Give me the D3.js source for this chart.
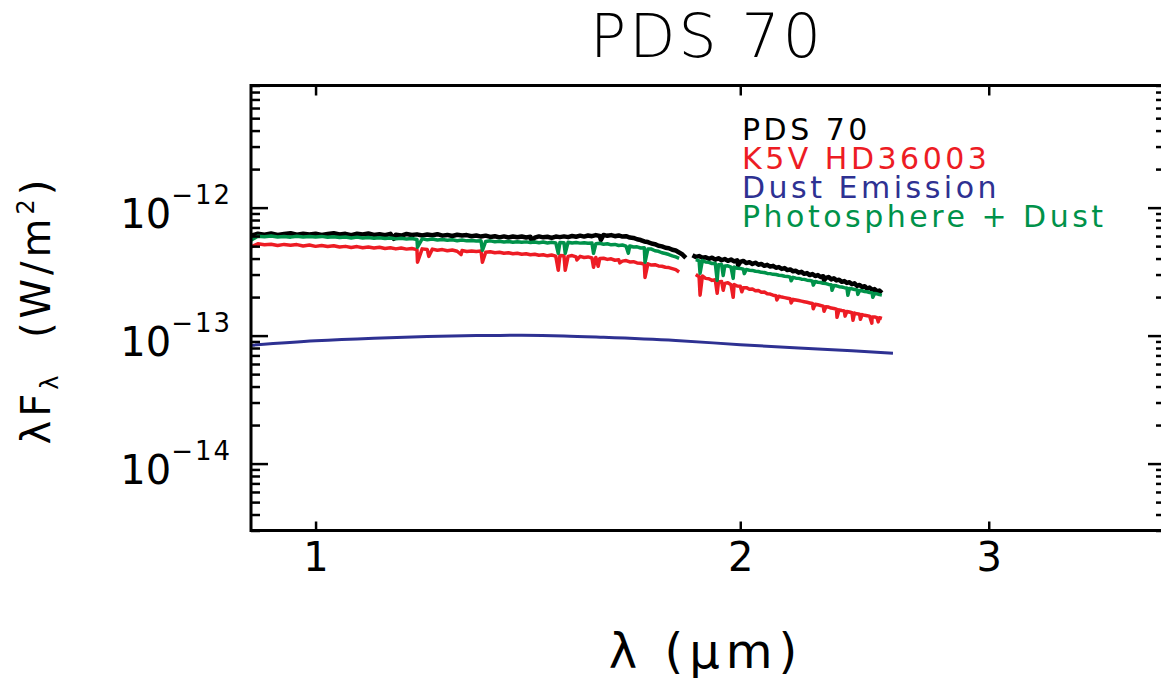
<!DOCTYPE html>
<html>
<head>
<meta charset="utf-8">
<script src="https://cdn.jsdelivr.net/npm/d3@7"></script>
<style>
  body { margin: 0; background: #fff; }
  text { font-family: "DejaVu Sans", "Liberation Sans", sans-serif; fill: #000; }
</style>
</head>
<body>
<svg id="chart" width="1161" height="687"></svg>
<script>
// spectra are sampled every 0.01 um from 0.90 to 2.52 um
const wavelength = d3.range(90, 253).map(i => i / 100);
const fluxUnit = 1e-13; // W/m^2, all flux values below are in these units

// PDS 70 observed spectrum
const pds70Flux = [
  6.05, 6.25, 6.15, 6.28, 6.12, 6.22, 6.30, 6.14, 6.24, 6.18,
  6.26, 6.12, 6.22, 6.30, 6.16, 6.24, 6.10, 6.25, 6.18, 6.28,
  6.12, 6.20, 6.08, 6.24, 6.15, 6.05, 6.22, 6.12, 6.18, 6.06,
  6.16, 6.08, 6.20, 6.04, 6.12, 6.00, 6.14, 6.06, 6.10, 5.98,
  6.06, 5.94, 6.04, 5.90, 5.98, 5.86, 5.96, 5.84, 5.94, 5.86,
  5.95, 5.84, 5.92, 5.82, 5.96, 5.86, 5.92, 5.80, 5.94, 5.88,
  5.96, 5.88, 6.00, 5.92, 6.04, 5.94, 6.06, 5.98, 6.10, 6.00,
  6.12, 6.02, 6.10, 5.98, 6.06, 5.94, 5.98, 5.84, 5.80, 5.66,
  5.58, 5.44, 5.38, 5.24, 5.18, 5.04, 4.98, 4.86, 4.82, 4.68,
  4.62, 4.46, 4.30, 4.05,
  null,
  4.25, 4.12, 4.18, 4.06, 4.10,
  3.98, 4.06, 3.92, 4.02, 3.88, 3.97, 3.84, 3.93, 3.80, 3.88,
  3.76, 3.83, 3.69, 3.75, 3.63, 3.71, 3.58, 3.63, 3.51, 3.57,
  3.46, 3.51, 3.39, 3.43, 3.32, 3.37, 3.25, 3.29, 3.18, 3.21,
  3.10, 3.15, 3.04, 3.08, 2.97, 3.03, 2.92, 2.97, 2.87, 2.91,
  2.82, 2.87, 2.75, 2.80, 2.70, 2.73, 2.63, 2.67, 2.58, 2.61,
  2.52, 2.56, 2.45, 2.49, 2.40, 2.43, 2.33, 2.37, 2.28, 2.31,
  2.22, 2.25, 2.16
];
const pds70Lines = [[1.136, 5.70], [1.423, 5.50], [1.593, 5.60], [1.993, 3.55], [2.293, 2.70]];

// K5V template HD36003
const k5vFlux = [
  4.92, 5.22, 5.12, 5.18, 5.06, 5.16, 5.08, 5.14, 5.02, 5.10,
  4.98, 5.06, 4.96, 5.04, 4.92, 4.98, 4.88, 4.96, 4.86, 4.92,
  4.84, 4.90, 4.80, 4.86, 4.76, 4.84, 4.74, 4.80, 4.70, 4.76,
  4.70, 4.74, 4.64, 4.70, 4.60, 4.66, 4.56, 4.62, 4.54, 4.58,
  4.54, 4.58, 4.48, 4.52, 4.44, 4.48, 4.40, 4.44, 4.36, 4.40,
  4.32, 4.36, 4.28, 4.32, 4.24, 4.28, 4.20, 4.26, 4.18, 4.22,
  4.20, 4.16, 4.22, 4.12, 4.16, 4.08, 4.12, 4.04, 4.08, 4.00,
  4.02, 3.94, 3.98, 3.88, 3.92, 3.82, 3.86, 3.76, 3.78, 3.70,
  3.68, 3.62, 3.64, 3.56, 3.58, 3.50, 3.48, 3.42, 3.40, 3.34,
  3.28, 3.14,
  null, null, null, null,
  3.00, 2.88, 2.92, 2.80,
  2.78, 2.70, 2.73, 2.62, 2.65, 2.56, 2.59, 2.50, 2.51, 2.44,
  2.43, 2.37, 2.37, 2.30, 2.31, 2.24, 2.25, 2.18, 2.19, 2.12,
  2.11, 2.07, 2.05, 2.03, 2.00, 1.98, 1.96, 1.94, 1.92, 1.90,
  1.88, 1.86, 1.84, 1.82, 1.80, 1.78, 1.76, 1.74, 1.72, 1.70,
  1.68, 1.67, 1.64, 1.63, 1.61, 1.59, 1.57, 1.56, 1.54, 1.53,
  1.51, 1.50, 1.48, 1.47, 1.46, 1.44, 1.43, 1.42, 1.40, 1.40,
  1.38, 1.38, 1.36
];
const k5vLines = [
  [1.181, 3.74], [1.203, 4.16], [1.268, 4.30], [1.313, 3.74], [1.486, 3.24],
  [1.503, 3.24], [1.532, 3.90], [1.574, 3.42], [1.586, 3.48], [1.643, 3.70],
  [1.712, 2.85], [1.873, 2.07], [1.926, 2.14], [1.945, 2.26], [1.977, 1.99],
  [2.005, 2.20], [2.123, 1.90], [2.173, 1.80], [2.253, 1.62], [2.293, 1.55],
  [2.342, 1.39], [2.373, 1.42], [2.404, 1.32], [2.433, 1.34], [2.479, 1.25],
  [2.505, 1.28]
];

// dust emission
const dustWave = [0.90, 1.00, 1.10, 1.20, 1.30, 1.40, 1.50, 1.60, 1.80, 2.00, 2.20, 2.40, 2.566];
const dustFlux = [0.84, 0.91, 0.955, 0.985, 1.0, 1.005, 0.995, 0.97, 0.915, 0.85, 0.80, 0.76, 0.727];

// photosphere + dust model
const modelFlux = [
  5.55, 5.98, 5.92, 6.00, 5.90, 5.96, 5.88, 5.98, 5.90, 5.94,
  5.90, 5.96, 5.86, 5.92, 5.84, 5.90, 5.80, 5.88, 5.78, 5.84,
  5.76, 5.82, 5.74, 5.78, 5.70, 5.76, 5.68, 5.74, 5.64, 5.70,
  5.62, 5.68, 5.58, 5.64, 5.56, 5.60, 5.52, 5.58, 5.50, 5.54,
  5.48, 5.52, 5.44, 5.50, 5.42, 5.46, 5.38, 5.44, 5.36, 5.42,
  5.36, 5.40, 5.34, 5.38, 5.32, 5.38, 5.30, 5.36, 5.30, 5.34,
  5.32, 5.36, 5.30, 5.34, 5.28, 5.32, 5.26, 5.30, 5.22, 5.26,
  5.18, 5.22, 5.12, 5.16, 5.06, 5.10, 5.00, 5.02, 4.92, 4.94,
  4.84, 4.86, 4.74, 4.74, 4.60, 4.56, 4.44, 4.38, 4.30, 4.20,
  4.12, 4.02,
  null, null, null, null,
  3.92, 3.84, 3.86, 3.76,
  3.74, 3.66, 3.67, 3.58, 3.59, 3.50, 3.51, 3.43, 3.43, 3.36,
  3.35, 3.30, 3.29, 3.24, 3.23, 3.18, 3.17, 3.12, 3.11, 3.06,
  3.05, 3.01, 3.00, 2.96, 2.95, 2.91, 2.90, 2.86, 2.85, 2.81,
  2.80, 2.76, 2.75, 2.71, 2.70, 2.66, 2.65, 2.61, 2.60, 2.56,
  2.55, 2.51, 2.50, 2.46, 2.45, 2.41, 2.40, 2.37, 2.36, 2.33,
  2.32, 2.29, 2.28, 2.25, 2.24, 2.21, 2.20, 2.17, 2.16, 2.13,
  2.12, 2.09, 2.07
];
const modelLines = [
  [1.181, 4.90], [1.313, 4.64], [1.486, 4.40], [1.503, 4.40], [1.574, 4.40],
  [1.666, 4.40], [1.712, 3.74], [1.873, 3.07], [1.926, 2.70], [1.945, 2.95],
  [1.977, 2.80], [2.013, 3.05], [2.173, 2.68], [2.253, 2.48], [2.323, 2.26],
  [2.384, 2.07], [2.423, 2.10], [2.483, 1.99]
];

const xTickValues = [1, 2, 3];
const yMajorTicks = [1e-12, 1e-13, 1e-14];
const yExponents = ["\u221212", "\u221213", "\u221214"];
const legendNames = ["PDS 70", "K5V HD36003", "Dust Emission", "Photosphere + Dust"];
const legendColors = ["#000000", "#ed1c24", "#2e3192", "#00924a"];

const svg = d3.select("#chart");
const plotLeft = 251, plotRight = 1165, plotTop = 85.5, plotBottom = 530.5;

const x = d3.scaleLog().domain([0.9, 4.0]).range([plotLeft, plotRight]);
const y = d3.scaleLog().domain([3e-15, 9e-12]).range([plotBottom, plotTop]);

svg.append("clipPath").attr("id", "plot")
  .append("rect").attr("x", plotLeft).attr("y", plotTop)
  .attr("width", plotRight - plotLeft).attr("height", plotBottom - plotTop);

// merge the sampled continuum with the narrow absorption lines
function buildSeries(flux, lines) {
  const pts = wavelength.map((w, i) => [w, flux[i]]);
  lines.forEach(l => pts.push(l));
  return pts.sort((a, b) => a[0] - b[0]);
}

const line = d3.line()
  .defined(d => d[1] != null)
  .x(d => x(d[0]))
  .y(d => y(d[1] * fluxUnit));

const plot = svg.append("g").attr("clip-path", "url(#plot)");

plot.append("path")
  .datum(buildSeries(pds70Flux, pds70Lines))
  .attr("fill", "none").attr("stroke", legendColors[0])
  .attr("stroke-width", 4.5).attr("stroke-linejoin", "round")
  .attr("d", line);

plot.append("path")
  .datum(buildSeries(k5vFlux, k5vLines))
  .attr("fill", "none").attr("stroke", legendColors[1])
  .attr("stroke-width", 3.5).attr("stroke-linejoin", "round")
  .attr("d", line);

plot.append("path")
  .datum(dustWave.map((w, i) => [w, dustFlux[i]]))
  .attr("fill", "none").attr("stroke", legendColors[2])
  .attr("stroke-width", 3)
  .attr("d", line.curve(d3.curveMonotoneX));
line.curve(d3.curveLinear);

plot.append("path")
  .datum(buildSeries(modelFlux, modelLines))
  .attr("fill", "none").attr("stroke", legendColors[3])
  .attr("stroke-width", 3.5).attr("stroke-linejoin", "round")
  .attr("d", line);

// axes: ticks point inward on all four sides
const yMinor = y.ticks().filter(v => !yMajorTicks.some(m => Math.abs(v / m - 1) < 1e-6));

function styleAxis(g) {
  g.select(".domain").remove();
  g.selectAll(".tick line").attr("stroke", "#000").attr("stroke-width", 2.5);
}

svg.append("g").attr("transform", `translate(0,${plotBottom})`)
  .call(d3.axisBottom(x).tickValues(xTickValues).tickFormat(d3.format("d"))
    .tickSizeInner(-9).tickSizeOuter(0).tickPadding(12))
  .call(styleAxis)
  .call(g => g.selectAll("text").style("font-size", "40px")
    .style("font-family", "DejaVu Sans").attr("fill", "#000"));

svg.append("g").attr("transform", `translate(0,${plotTop})`)
  .call(d3.axisTop(x).tickValues(xTickValues).tickFormat("")
    .tickSizeInner(-10).tickSizeOuter(0))
  .call(styleAxis);

[[d3.axisLeft, plotLeft], [d3.axisRight, plotRight]].forEach(([axis, pos]) => {
  svg.append("g").attr("transform", `translate(${pos},0)`)
    .call(axis(y).tickValues(yMajorTicks).tickFormat("").tickSizeInner(-17).tickSizeOuter(0))
    .call(styleAxis);
  svg.append("g").attr("transform", `translate(${pos},0)`)
    .call(axis(y).tickValues(yMinor).tickFormat("").tickSizeInner(-9).tickSizeOuter(0))
    .call(styleAxis);
});

svg.append("rect")
  .attr("x", plotLeft).attr("y", plotTop)
  .attr("width", plotRight - plotLeft).attr("height", plotBottom - plotTop)
  .attr("fill", "none").attr("stroke", "#000").attr("stroke-width", 3);

// y tick labels 10^-n
svg.selectAll(".ylab").data(yMajorTicks).join("text")
  .attr("class", "ylab")
  .attr("x", 232).attr("y", d => y(d) + 20)
  .attr("text-anchor", "end")
  .style("font-size", "40px")
  .each(function(d, i) {
    const t = d3.select(this);
    t.append("tspan").text("10");
    t.append("tspan").attr("dy", -24).style("font-size", "26px")
      .style("letter-spacing", "2px").text(yExponents[i]);
  });

// title
svg.append("text")
  .attr("x", 707).attr("y", 57).attr("text-anchor", "middle")
  .style("font-size", "60px").style("letter-spacing", "3px")
  .style("font-weight", 300)
  .text("PDS 70");

// x axis title
svg.append("text")
  .attr("x", 706).attr("y", 668).attr("text-anchor", "middle")
  .style("font-size", "48px").style("letter-spacing", "6px")
  .text("\u03bb (\u03bcm)");

// y axis title
const yTitle = svg.append("text")
  .attr("transform", "translate(50,310) rotate(-90)")
  .attr("text-anchor", "middle")
  .style("font-size", "40px").style("letter-spacing", "4px")
  .style("white-space", "pre");
yTitle.append("tspan").text("\u03bbF");
yTitle.append("tspan").attr("dy", 8).style("font-size", "24px").text("\u03bb");
yTitle.append("tspan").attr("dy", -8).text("  (W/m");
yTitle.append("tspan").attr("dy", -16).style("font-size", "24px").text("2");
yTitle.append("tspan").attr("dy", 16).text(")");

// legend
svg.selectAll(".legend").data(legendNames).join("text")
  .attr("class", "legend")
  .attr("x", 742).attr("y", (d, i) => 140 + i * 29)
  .style("font-size", "30px").style("letter-spacing", "3.5px")
  .style("fill", (d, i) => legendColors[i])
  .text(d => d);
</script>
</body>
</html>
